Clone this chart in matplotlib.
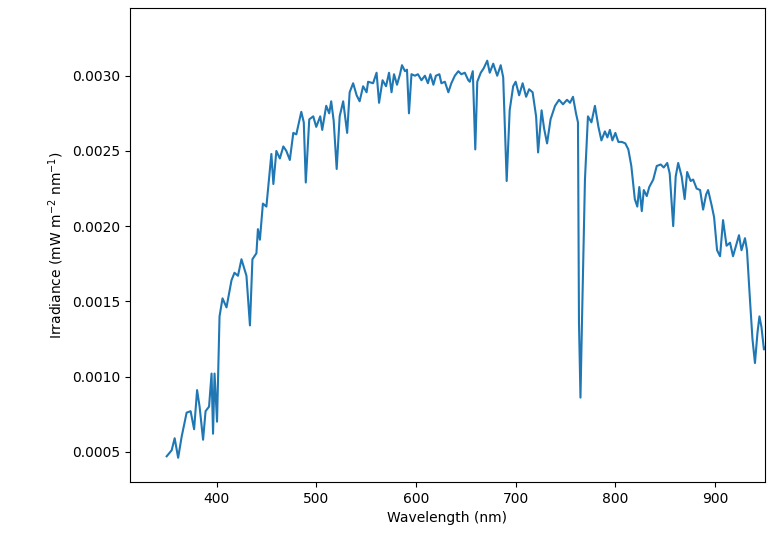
import matplotlib
matplotlib.use("Agg")
import matplotlib.pyplot as plt

# Solar irradiance spectrum

wavelength = [
    350, 355, 358, 361.5, 365, 370, 374, 377.5, 380.5, 383, 386.5, 389, 392.5,
    395, 396.5, 398, 400.5, 403, 406, 410, 415, 418, 421.5, 425, 430, 433.5,
    436, 440, 441.5, 443.5, 446.5, 450, 453.5, 455, 457, 460, 463.5, 467, 470,
    473.5, 477, 480, 485, 487.5, 489.5, 493, 497, 500, 504, 506, 510, 513, 515,
    517.5, 520.5, 523.5, 527, 531, 533.5, 537, 540.5, 543.5, 547, 550.5, 552,
    557, 560.5, 563, 566.5, 570, 573, 575.5, 578, 581, 584, 586, 589, 591, 593,
    595.5, 599, 602, 605.5, 609, 612, 614.5, 617.5, 620, 623.5, 625.5, 629,
    632.5, 635.5, 639, 642.5, 645.5, 649, 652.5, 654, 657, 659.5, 661.5, 665,
    668, 671.5, 674, 677.5, 681.5, 685, 687.5, 691, 694, 697.5, 700, 703.5,
    707, 710.5, 713.5, 717, 720.5, 722.5, 726, 728.5, 731.5, 735, 739.5,
    743.5, 747.5, 751.5, 754.5, 757.5, 760.5, 762.5, 763.5, 765, 766.5, 769.5,
    772.5, 776, 779.5, 783, 786, 789.5, 792, 794.5, 797, 800, 803, 806.5, 810,
    813, 816, 819.5, 822, 824, 826.5, 828.5, 831.5, 834, 838, 841.5, 845.5,
    848.5, 852, 854.5, 858, 860.5, 863, 866.5, 869.5, 872, 875.5, 878, 881.5,
    885, 888, 891, 893, 896.5, 899, 902, 905, 908, 911.5, 915, 918, 921, 924,
    926.5, 930, 932, 935, 937.5, 940, 942.5, 944.5, 946.5, 949, 951,
]

irradiance = [
    0.00047, 0.00051, 0.00059, 0.00046, 0.00060, 0.00076, 0.00077, 0.00065,
    0.00091, 0.00080, 0.00058, 0.00077, 0.00080, 0.00102, 0.00062, 0.00102,
    0.00070, 0.00140, 0.00152, 0.00146, 0.00164, 0.00169, 0.00167, 0.00178,
    0.00167, 0.00134, 0.00178, 0.00182, 0.00198, 0.00191, 0.00215, 0.00213,
    0.00238, 0.00248, 0.00228, 0.00250, 0.00245, 0.00253, 0.00250, 0.00244,
    0.00262, 0.00261, 0.00276, 0.00269, 0.00229, 0.00271, 0.00273, 0.00266,
    0.00273, 0.00264, 0.00280, 0.00275, 0.00283, 0.00270, 0.00238, 0.00273,
    0.00283, 0.00262, 0.00289, 0.00295, 0.00287, 0.00283, 0.00293, 0.00289,
    0.00296, 0.00295, 0.00302, 0.00282, 0.00297, 0.00293, 0.00302, 0.00289,
    0.00301, 0.00294, 0.00301, 0.00307, 0.00303, 0.00304, 0.00275, 0.00301,
    0.00300, 0.00301, 0.00297, 0.00300, 0.00295, 0.00301, 0.00294, 0.00300,
    0.00301, 0.00295, 0.00296, 0.00289, 0.00295, 0.00300, 0.00303, 0.00301,
    0.00302, 0.00297, 0.00296, 0.00303, 0.00251, 0.00296, 0.00302, 0.00305,
    0.00310, 0.00302, 0.00308, 0.00300, 0.00307, 0.00299, 0.00230, 0.00277,
    0.00293, 0.00296, 0.00287, 0.00295, 0.00286, 0.00291, 0.00289, 0.00273,
    0.00249, 0.00277, 0.00265, 0.00255, 0.00271, 0.00280, 0.00284, 0.00281,
    0.00284, 0.00282, 0.00286, 0.00275, 0.00269, 0.00136, 0.00086, 0.00136,
    0.00231, 0.00273, 0.00269, 0.00280, 0.00266, 0.00257, 0.00263, 0.00259,
    0.00264, 0.00257, 0.00262, 0.00256, 0.00256, 0.00255, 0.00251, 0.00240,
    0.00218, 0.00213, 0.00226, 0.00210, 0.00224, 0.00220, 0.00226, 0.00231,
    0.00240, 0.00241, 0.00239, 0.00242, 0.00235, 0.00200, 0.00233, 0.00242,
    0.00233, 0.00218, 0.00236, 0.00230, 0.00231, 0.00225, 0.00224, 0.00211,
    0.00221, 0.00224, 0.00214, 0.00206, 0.00184, 0.00180, 0.00204, 0.00187,
    0.00189, 0.00180, 0.00187, 0.00194, 0.00184, 0.00192, 0.00184, 0.00151,
    0.00125, 0.00109, 0.00129, 0.00140, 0.00133, 0.00118, 0.00120,
]

fig = plt.figure(figsize=(7.68, 5.36), dpi=100)
ax = fig.add_axes([0.169, 0.101, 0.827, 0.884])

ax.plot(wavelength, irradiance, color="C0", linewidth=1.5)

ax.set_xlim(313, 950)
ax.set_ylim(0.0003, 0.00345)
ax.set_xticks([400, 500, 600, 700, 800, 900])
ax.set_yticks([0.0005, 0.0010, 0.0015, 0.0020, 0.0025, 0.0030])

ax.set_xlabel("Wavelength (nm)")
ax.set_ylabel("Irradiance (mW m$^{-2}$ nm$^{-1}$)")

fig.savefig("out.png", dpi=100)
